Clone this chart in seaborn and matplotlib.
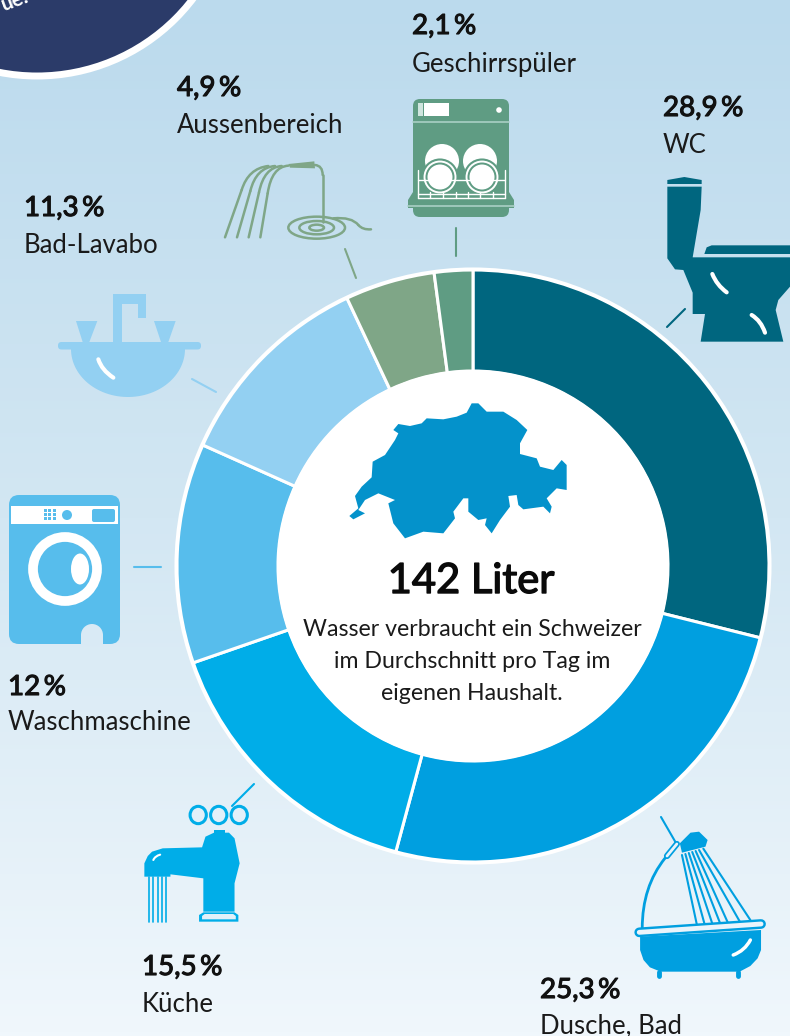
import numpy as np
import matplotlib
matplotlib.use('Agg')
import matplotlib.pyplot as plt
import matplotlib.patheffects as pe
from matplotlib.patches import Circle, Ellipse, FancyBboxPatch, PathPatch, Polygon, Rectangle
from matplotlib.path import Path
import seaborn as sns

# values, clockwise from 12 o'clock
categories = ['WC', 'Dusche, Bad', 'Küche', 'Waschmaschine', 'Bad-Lavabo', 'Aussenbereich', 'Geschirrspüler']
shares = [28.9, 25.3, 15.5, 12.0, 11.3, 4.9, 2.1]
share_labels = ['28,9\u2009%', '25,3\u2009%', '15,5\u2009%', '12\u2009%', '11,3\u2009%', '4,9\u2009%', '2,1\u2009%']
colors = ['#00667F', '#009FE0', '#00ADE8', '#57BDEC', '#93D0F2', '#7FA687', '#5F9C83']

label_pos = [(663, 116, 153), (540, 998, 1033), (142, 975, 1012), (8, 695, 730),
             (24, 216, 253), (177, 96, 133), (412, 34, 72)]
leaders = [((667, 327), (685, 309)), ((661, 817), (676, 843)), ((232, 806), (254, 784)),
           ((134, 567), (161, 567)), ((192, 379), (216, 392)), ((345, 249), (356, 278)),
           ((456, 228), (456, 256))]

W, H = 790, 1036
CX, CY, R = 473, 566, 296
FONT = 'Lato'

sns.set_theme(style='white')
plt.rcParams['font.family'] = [FONT, 'DejaVu Sans']

fig = plt.figure(figsize=(W / 100, H / 100), dpi=100)

# background + everything else lives in pixel coordinates
bg = fig.add_axes([0, 0, 1, 1], zorder=0)
bg.imshow(np.linspace(0, 1, 256).reshape(-1, 1), extent=(0, W, H, 0), aspect='auto',
          cmap=matplotlib.colors.LinearSegmentedColormap.from_list('sky', ['#BBDAED', '#D3E7F3', '#F0F7FC']))
bg.set_xlim(0, W)
bg.set_ylim(H, 0)
bg.axis('off')

# donut
pie_ax = fig.add_axes([(CX - R - 10) / W, 1 - (CY + R + 10) / H, (2 * R + 20) / W, (2 * R + 20) / H], zorder=1)
pie_ax.pie(shares, colors=colors, startangle=90, counterclock=False, radius=R,
           wedgeprops=dict(width=R - 195, edgecolor='white', linewidth=2.2))
pie_ax.set_xlim(-R - 10, R + 10)
pie_ax.set_ylim(-R - 10, R + 10)
pie_ax.set_aspect('equal')
pie_ax.add_patch(Circle((0, 0), R + 1, fc='none', ec='white', lw=2.2))
pie_ax.add_patch(Circle((0, 0), 196, fc='white', ec='none', zorder=5))
pie_ax.patch.set_alpha(0)

ax = fig.add_axes([0, 0, 1, 1], zorder=2)
ax.set_xlim(0, W)
ax.set_ylim(H, 0)
ax.axis('off')
ax.patch.set_alpha(0)


def scale(pts, ox, oy, s):
    sx, sy = s if isinstance(s, tuple) else (s, s)
    return [(ox + x / sx, oy + y / sy) for x, y in pts]


def poly(pts, color, ox=0, oy=0, s=1, z=3):
    ax.add_patch(Polygon(scale(pts, ox, oy, s), closed=True, fc=color, ec='none', zorder=z))


def stroke(pts, color, lw, ox=0, oy=0, s=1, z=4, curve=False):
    pts = scale(pts, ox, oy, s)
    if curve:
        codes = [Path.MOVETO] + [Path.CURVE3] * (len(pts) - 1)
        ax.add_patch(PathPatch(Path(pts, codes), fc='none', ec=color, lw=lw, capstyle='round', zorder=z))
    else:
        ax.plot(*zip(*pts), color=color, lw=lw, solid_capstyle='round', zorder=z)


def rrect(x0, y0, x1, y1, r, color, z=3):
    ax.add_patch(FancyBboxPatch((x0 + r, y0 + r), x1 - x0 - 2 * r, y1 - y0 - 2 * r,
                                boxstyle=f'round,pad={r}', fc=color, ec='none', zorder=z))


# navy circle, top left corner
ax.add_patch(Circle((37, -120), 196, fc='#2B3B69', ec='white', lw=5, zorder=3))
ax.text(-2, 1, 'ue.', color='white', fontsize=15, fontweight='bold', rotation=20, ha='left', va='center',
        zorder=4, clip_on=True)

# leader lines
for (p0, p1), c in zip(leaders, colors):
    ax.plot(*zip(p0, p1), color=c, lw=1.5, zorder=3)

# labels, regular weight thickened a little for the medium look of the numbers
for name, lab, c, (x, y1, y2) in zip(categories, share_labels, colors, label_pos):
    ax.text(x, y1, lab, fontsize=20, color='#111111', ha='left', va='baseline', zorder=6,
            path_effects=[pe.withStroke(linewidth=0.8, foreground='#111111')])
    ax.text(x, y2, name, fontsize=18.5, fontweight='normal', color='#1A1A1A', ha='left', va='baseline', zorder=6)

# centre text
ax.text(471, 593, '142 Liter', fontsize=30, color='#0A0A0A', ha='center', va='baseline', zorder=6,
        path_effects=[pe.withStroke(linewidth=1.0, foreground='#0A0A0A')])
for txt, y in zip(['Wasser verbraucht ein Schweizer', 'im Durchschnitt pro Tag im', 'eigenen Haushalt.'],
                  [636, 668, 700]):
    ax.text(472, y, txt, fontsize=16.7, fontweight='normal', color='#1A1A1A', ha='center', va='baseline', zorder=6)

# map of Switzerland
swiss = [(178, 378), (205, 355), (195, 318), (215, 290), (245, 262), (248, 215), (285, 195), (315, 150), (325, 130),
         (310, 120), (325, 102), (360, 108), (395, 100), (410, 85), (460, 88), (500, 80), (530, 68), (545, 40),
         (565, 40), (590, 65), (640, 65), (680, 90), (712, 120), (690, 160), (690, 192), (740, 205), (750, 230),
         (790, 240), (815, 210), (830, 225), (830, 300), (800, 295), (770, 325), (785, 350), (780, 370), (760, 350),
         (700, 358), (685, 345), (680, 315), (655, 318), (660, 350), (630, 390), (605, 430), (585, 405), (590, 385),
         (565, 390), (535, 365), (535, 325), (520, 325), (490, 365), (495, 385), (460, 430), (400, 425), (345, 445),
         (310, 400), (295, 340), (315, 330), (265, 310), (225, 330), (205, 360), (225, 370), (190, 388)]
poly(swiss, '#0492CB', 290, 390, 3, z=5)

# --- icons ---
# dishwasher
c = colors[6]
rrect(413, 99, 509, 217, 7, c)
poly([(413, 192), (509, 192), (514, 200), (514, 208), (408, 208), (408, 200)], c)
ax.plot([413, 509], [122, 122], color='#A9CFC4', lw=1.2, zorder=4)
ax.plot([408, 514], [206, 206], color='#A9CFC4', lw=1.2, zorder=4)
ax.add_patch(Rectangle((424, 103), 25, 13, fc='white', ec='none', zorder=4))
ax.add_patch(Rectangle((418, 103), 5, 13, fc='#CFE5DE', ec='none', zorder=4))
ax.add_patch(Circle((499, 110), 2.8, fc='white', ec='none', zorder=4))
for px, bx in [(440, 442), (482, 480)]:
    ax.add_patch(Circle((bx, 161), 17, fc='white', ec='none', zorder=4))
    ax.add_patch(Circle((px, 177), 17.5, fc='white', ec=c, lw=1.5, zorder=4))
    ax.add_patch(Circle((px, 177), 14.5, fc=c, ec='none', zorder=4))
    ax.add_patch(Circle((px, 177), 12.5, fc='white', ec='none', zorder=4))
for y in [180, 194, 198]:
    ax.plot([418, 505], [y, y], color='white', lw=1, zorder=5)
for x in [418, 430, 443, 456, 468, 480, 493, 505]:
    ax.plot([x, x], [170 if x in (418, 505) else 192, 198], color='white', lw=1, zorder=5)

# toilet
c = colors[0]
poly([(817, 560), (920, 560), (917, 630), (893, 772), (1185, 772), (1185, 860), (1150, 900), (1142, 930), (1165, 1025),
      (917, 1025), (930, 942), (893, 942), (893, 878), (865, 810), (840, 808), (817, 775)], c, 395, 0, 3)
poly([(817, 540), (868, 531), (920, 540), (920, 552), (817, 552)], c, 395, 0, 3)
poly([(928, 762), (935, 742), (950, 736), (1185, 736), (1185, 762)], c, 395, 0, 3)
stroke([(952, 822), (965, 855), (995, 877)], 'white', 3, 395, 0, 3, curve=True)
stroke([(1070, 945), (1098, 962), (1110, 998)], 'white', 3, 395, 0, 3, curve=True)

# hose
c = colors[5]
poly([(865, 492), (943, 484), (945, 505), (870, 503)], c, 0, 0, 3)
for x_end, mid, ctrl, top in [(675, (725, 570), (745, 505), (805, 498)), (711, (751, 573), (768, 503), (825, 498)),
                              (746, (777, 577), (792, 502), (845, 498)), (781, (803, 580), (815, 500), (865, 497))]:
    stroke([(x_end, 712), mid], c, 1.8, 0, 0, 3)
    stroke([mid, ctrl, top], c, 1.8, 0, 0, 3, curve=True)
stroke([(945, 495), (968, 497), (968, 525)], c, 1.8, 0, 0, 3, curve=True)
stroke([(968, 525), (968, 665)], c, 1.8, 0, 0, 3)
for rx, ry in [(85, 33), (52, 20), (22, 9)]:
    ax.add_patch(Ellipse((950 / 3, 683 / 3), 2 * rx / 3, 2 * ry / 3, fc='none', ec=c, lw=1.8, zorder=4))
stroke([(1000, 655), (1055, 650), (1075, 675)], c, 1.8, 0, 0, 3, curve=True)
stroke([(1075, 675), (1088, 690), (1113, 688)], c, 1.8, 0, 0, 3, curve=True)

# wash basin
c = colors[4]
rrect(58, 342, 201, 349.5, 3.5, c)
theta = np.linspace(0, np.pi, 60)
poly(list(zip(128 + 57 * np.cos(theta), 349 + 48 * np.sin(theta))), c)
poly([(338, 156), (338, 13), (438, 13), (438, 84), (415, 84), (415, 42), (367, 42), (367, 156)], c, 0, 290, 3)
poly([(228, 93), (292, 93), (268, 156), (248, 156)], c, 0, 290, 3)
poly([(462, 93), (527, 93), (505, 156), (483, 156)], c, 0, 290, 3)
stroke([(295, 208), (305, 240), (340, 263)], 'white', 3, 0, 290, 3, curve=True)

# washing machine
c = colors[3]
rrect(9, 495, 120, 644, 10, c)
ax.add_patch(Rectangle((11, 506), 107, 18, fc='white', ec='none', zorder=4))
for gx in [45, 49.5, 54]:
    for gy in [510, 514, 518]:
        ax.add_patch(Rectangle((gx - 1.5, gy - 1.5), 3, 3, fc=c, ec='none', zorder=5))
ax.add_patch(Circle((67, 515), 5, fc=c, ec='none', zorder=5))
rrect(92, 509, 115, 522, 2, c, z=5)
ax.add_patch(Circle((65, 569), 32, fc='none', ec='white', lw=7, zorder=4))
ax.add_patch(Ellipse((80, 569), 18, 31, fc='white', ec='none', zorder=4))
ax.add_patch(Rectangle((81, 635), 22, 10, fc='#D9EAF5', ec='none', zorder=4))
ax.add_patch(Circle((92, 635), 11, fc='#D9EAF5', ec='none', zorder=4))

# tap and bathtub crops were stretched: 2.34x wide, 3x high
S = (2.34, 3)
c = colors[2]
poly([(57, 290), (57, 250), (65, 228), (75, 215), (100, 205), (192, 202), (200, 170), (220, 158), (255, 158), (268, 175),
      (280, 250), (268, 310), (268, 395), (195, 395), (195, 295), (118, 283), (118, 290)], c, 120, 780, S)
poly([(185, 425), (185, 405), (195, 397), (268, 397), (277, 405), (277, 425)], c, 120, 780, S)
poly([(192, 418), (192, 408), (198, 402), (265, 402), (271, 408), (271, 418)], '#E2F0F9', 120, 780, S, z=4)
poly([(220, 150), (245, 150), (245, 158), (220, 158)], c, 120, 780, S)
for kx in [183, 231, 279]:
    ax.add_patch(Ellipse((120 + kx / 2.34, 780 + 105 / 3), 38 / 2.34, 52 / 3, fc='#E2F0F9', ec=c, lw=2.2, zorder=4))
for wx in [67, 77, 88, 98, 108]:
    ax.plot([120 + wx / 2.34] * 2, [780 + 290 / 3, 780 + 425 / 3], color=c, lw=1.2, zorder=3)
stroke([(78, 240), (82, 228), (94, 224)], 'white', 1.5, 120, 780, S, curve=True)

c = colors[1]
poly([(1217, 470), (1500, 450), (1500, 510), (1492, 535), (1475, 558), (1450, 575), (1265, 575), (1240, 562), (1225, 540),
      (1217, 510)], c, 120, 780, S)
stroke([(1215, 457), (1500, 432)], c, 7, 120, 780, S)
stroke([(1215, 457), (1500, 432)], '#EAF4FB', 3.5, 120, 780, S, z=5)
stroke([(1262, 575), (1262, 588)], c, 3.5, 120, 780, S)
stroke([(1445, 575), (1445, 588)], c, 3.5, 120, 780, S)
stroke([(1435, 525), (1462, 512), (1475, 480)], 'white', 2.5, 120, 780, S, curve=True)
stroke([(1275, 235), (1222, 320), (1222, 445)], c, 2, 120, 780, S, curve=True)
poly([(1310, 190), (1335, 158), (1355, 155), (1375, 180), (1370, 200), (1315, 218)], c, 120, 780, S)
stroke([(1280, 228), (1303, 192)], c, 4.5, 120, 780, S)
stroke([(1280, 228), (1303, 192)], '#EAF4FB', 2, 120, 780, S, z=5)
for (x0, y0), (x1, y1) in zip([(1315, 225), (1323, 222), (1331, 219), (1339, 216), (1347, 213), (1355, 210), (1365, 206)],
                              [(1350, 435), (1368, 433), (1386, 431), (1404, 429), (1422, 427), (1450, 424), (1475, 420)]):
    ax.plot([120 + x0 / 2.34, 120 + x1 / 2.34], [780 + y0 / 3, 780 + y1 / 3], color=c, lw=1.5, zorder=3)

fig.savefig('out.png', dpi=100)
